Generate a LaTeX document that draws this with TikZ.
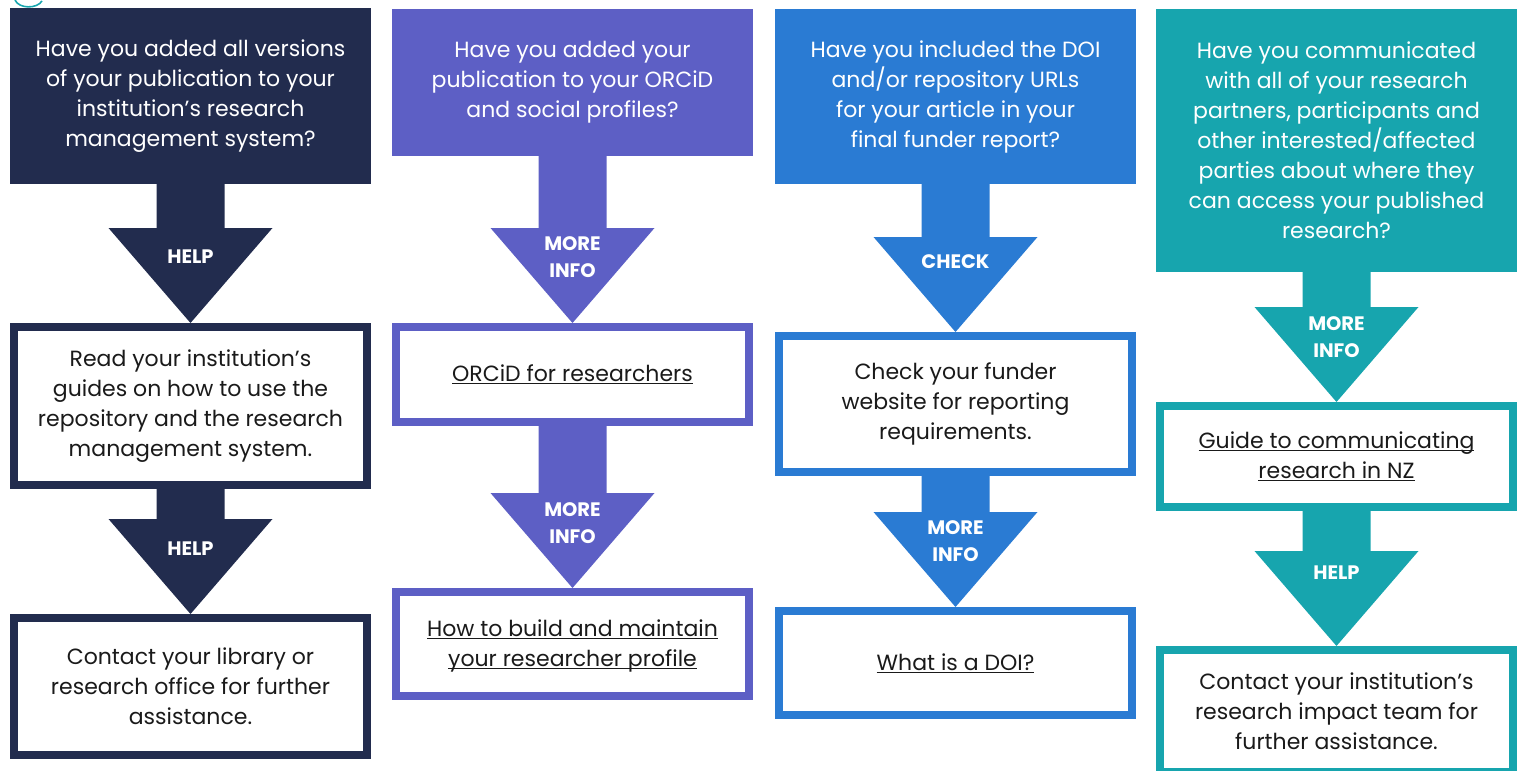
\documentclass[tikz,border=0pt]{standalone}
\usepackage{fontspec}
\setmainfont{Poppins}
\usetikzlibrary{calc}
\definecolor{navy}{HTML}{222C4E}
\definecolor{iris}{HTML}{5D5FC5}
\definecolor{azure}{HTML}{2A7BD3}
\definecolor{lagoon}{HTML}{17A5AE}
\definecolor{ink}{HTML}{1A1A1A}

% underlined link text, rule at a fixed depth
\newcommand{\link}[1]{\underline{\raisebox{0pt}[\height][0pt]{#1}}}

% block arrow from one box down to the next, label in the head (#5 = label height above the tip)
\newcommand{\flowarrow}[5]{%
  \fill[#3] ($(#1.south)+(-34,0)$) -- ($(#2.north)+(-34,-95)$) -- ($(#2.north)+(-82,-95)$)
    -- (#2.north) -- ($(#2.north)+(82,-95)$) -- ($(#2.north)+(34,-95)$) -- ($(#1.south)+(34,0)$) -- cycle;
  \node[tag] at ($(#2.north)+(0,-#5)$) {#4};
}

\begin{document}
\begin{tikzpicture}[x=1pt, y=-1pt,
    question/.style={fill=#1, text=white, minimum width=361, inner sep=0pt, align=center,
      font=\fontsize{22}{30}\selectfont},
    answer/.style={draw=#1, fill=white, line width=8pt, text=ink, minimum width=353, inner sep=0pt,
      align=center, font=\fontsize{22}{30}\selectfont},
    tag/.style={text=white, inner sep=0pt, align=center, font=\bfseries\fontsize{19.5}{27}\selectfont}]
  % fixed 1521 x 771 canvas
  \path[use as bounding box] (0,0) rectangle (1521,771);

  % stray logo curl, top left
  \draw[lagoon, line width=1.6pt] (15,0) .. controls (19,9) and (37,9) .. (42,1);

  % ================= 1) research management system =================
  \node[question=navy, minimum height=176] (q1) at (190.5,96)
    {Have you added all versions\\of your publication to your\\institution’s research\\management system?};
  \node[answer=navy, minimum height=158] (r1) at (190.5,406)
    {Read your institution’s\\guides on how to use the\\repository and the research\\management system.};
  \node[answer=navy, minimum height=137] (s1) at (190.5,686.5)
    {Contact your library or\\research office for further\\assistance.};
  \flowarrow{q1}{r1}{navy}{HELP}{66}
  \flowarrow{r1}{s1}{navy}{HELP}{65}

  % ================= 2) ORCiD and social profiles =================
  \node[question=iris, minimum height=147] (q2) at (572.5,82.5)
    {Have you added your\\publication to your ORCiD\\and social profiles?};
  \node[answer=iris, minimum height=95] (r2) at (572.5,374.5)
    {\link{ORCiD for researchers}};
  \node[answer=iris, minimum height=104] (s2) at (572.5,644)
    {\link{How to build and maintain}\\\link{your researcher profile}};
  \flowarrow{q2}{r2}{iris}{MORE\\INFO}{66}
  \flowarrow{r2}{s2}{iris}{MORE\\INFO}{65}

  % ================= 3) funder report =================
  \node[question=azure, minimum height=175] (q3) at (955.5,96.5)
    {Have you included the DOI\\and/or repository URLs\\for your article in your\\final funder report?};
  \node[answer=azure, minimum height=136] (r3) at (955.5,404)
    {Check your funder\\website for reporting\\requirements.};
  \node[answer=azure, minimum height=104] (s3) at (955.5,663)
    {\link{What is a DOI?}};
  \flowarrow{q3}{r3}{azure}{CHECK}{70}
  \flowarrow{r3}{s3}{azure}{MORE\\INFO}{66}

  % ================= 4) research partners =================
  \node[question=lagoon, minimum height=263] (q4) at (1336.5,140.5)
    {Have you communicated\\with all of your research\\partners, participants and\\other interested/affected\\parties about where they\\can access your published\\research?};
  \node[answer=lagoon, minimum height=101] (r4) at (1336.5,456.5)
    {\link{Guide to communicating}\\\link{research in NZ}};
  \node[answer=lagoon, minimum height=122] (s4) at (1336.5,711)
    {Contact your institution’s\\research impact team for\\further assistance.};
  \flowarrow{q4}{r4}{lagoon}{MORE\\INFO}{65}
  \flowarrow{r4}{s4}{lagoon}{HELP}{73}
\end{tikzpicture}
\end{document}
